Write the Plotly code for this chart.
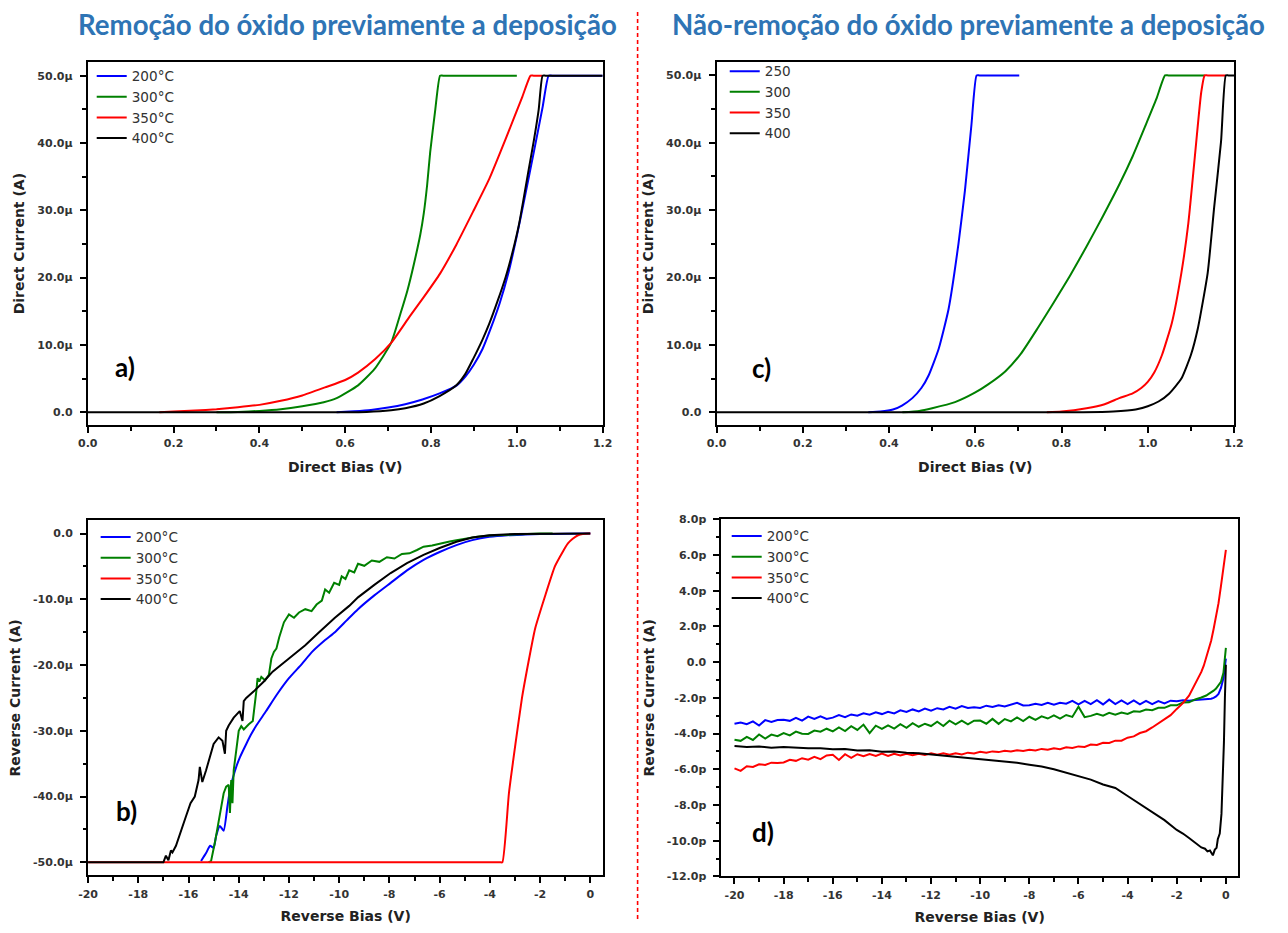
import plotly.graph_objects as go

# ---------------------------------------------------------------- data
# a) forward I-V, oxide removed before deposition (V, µA)
a_v_200 = [0.58, 0.62, 0.66, 0.70, 0.74, 0.78, 0.82, 0.86, 0.88, 0.90, 0.92, 0.94, 0.96, 0.98, 1.00, 1.02, 1.04, 1.06, 1.074, 1.082, 1.2]
a_i_200 = [0.0, 0.15, 0.35, 0.7, 1.2, 1.9, 2.8, 4.0, 5.3, 7.1, 9.4, 12.6, 16.2, 20.6, 26.2, 32.4, 38.8, 45.3, 50.0, 50.0, 50.0]
a_v_300 = [0.30, 0.35, 0.40, 0.45, 0.50, 0.55, 0.58, 0.63, 0.668, 0.707, 0.729, 0.745, 0.76, 0.775, 0.783, 0.791, 0.798, 0.81, 0.821, 0.828, 1.0]
a_i_300 = [0.0, 0.05, 0.2, 0.45, 0.9, 1.5, 2.1, 4.0, 6.4, 10.3, 14.7, 18.1, 22.0, 26.4, 29.5, 33.8, 38.6, 45.0, 50.0, 50.0, 50.0]
a_v_350 = [0.167, 0.2, 0.25, 0.3, 0.35, 0.4, 0.45, 0.5, 0.553, 0.6, 0.63, 0.67, 0.707, 0.75, 0.783, 0.821, 0.859, 0.898, 0.936, 0.974, 1.013, 1.032, 1.039, 1.059]
a_i_350 = [0.0, 0.1, 0.25, 0.45, 0.75, 1.1, 1.7, 2.5, 3.7, 4.8, 5.9, 7.9, 10.3, 14.2, 17.1, 20.6, 24.9, 29.8, 34.7, 40.6, 46.9, 50.0, 50.0, 50.0]
a_v_400 = [0.0, 0.6, 0.65, 0.707, 0.74, 0.783, 0.82, 0.859, 0.88, 0.898, 0.92, 0.936, 0.955, 0.974, 0.99, 1.005, 1.028, 1.04, 1.051, 1.06, 1.067, 1.2]
a_i_400 = [0.0, 0.0, 0.05, 0.3, 0.6, 1.3, 2.4, 4.0, 5.7, 7.9, 10.8, 13.2, 16.5, 20.1, 23.8, 27.9, 36.2, 40.5, 45.0, 50.0, 50.0, 50.0]

# c) forward I-V, oxide kept (V, µA)
c_v_250 = [0.352, 0.38, 0.409, 0.43, 0.454, 0.475, 0.492, 0.515, 0.538, 0.561, 0.576, 0.591, 0.603, 0.61, 0.702]
c_i_250 = [0.0, 0.1, 0.4, 1.0, 2.1, 3.6, 5.5, 9.4, 15.3, 25.0, 32.9, 42.6, 50.0, 50.0, 50.0]
c_v_300 = [0.431, 0.47, 0.5, 0.553, 0.599, 0.629, 0.67, 0.706, 0.745, 0.782, 0.82, 0.858, 0.896, 0.934, 0.965, 0.995, 1.02, 1.04, 1.048, 1.132]
c_i_300 = [0.0, 0.2, 0.6, 1.5, 2.9, 4.1, 6.1, 8.7, 12.5, 16.3, 20.3, 24.6, 29.1, 33.8, 38.0, 42.6, 46.5, 50.0, 50.0, 50.0]
c_v_350 = [0.766, 0.8, 0.858, 0.9, 0.934, 0.965, 0.985, 1.0, 1.015, 1.033, 1.056, 1.078, 1.094, 1.109, 1.124, 1.132, 1.139, 1.181]
c_i_350 = [0.0, 0.1, 0.6, 1.2, 2.1, 2.8, 3.6, 4.5, 5.9, 8.5, 13.3, 20.7, 28.0, 37.8, 47.5, 50.0, 50.0, 50.0]
c_v_400 = [0.0, 0.85, 0.92, 0.972, 1.0, 1.025, 1.05, 1.078, 1.1, 1.116, 1.139, 1.154, 1.17, 1.181, 1.187, 1.2]
c_i_400 = [0.0, 0.0, 0.1, 0.4, 0.9, 1.6, 2.8, 5.0, 8.5, 12.4, 20.7, 30.4, 40.2, 50.0, 50.0, 50.0]

# b) reverse I-V, oxide removed (V, µA)
b_v_200 = [-15.5, -15.3, -15.14, -15.0, -14.9, -14.75, -14.6, -14.45, -14.35, -14.22, -14.1, -13.95, -13.7, -13.5, -13.3, -12.91, -12.5, -12.0, -11.5, -11.08,
           -10.56, -10.17, -9.7, -9.25, -8.6, -7.95, -7.3, -6.64, -6.0, -5.33, -4.7, -4.02, -3.3, -2.59, -2.0, -1.0, 0.0]
b_i_200 = [-49.8, -48.6, -47.5, -47.8, -46.0, -44.5, -45.2, -41.5, -39.0, -37.0, -35.5, -34.0, -32.0, -30.5, -29.2, -27.0, -24.6, -22.0, -19.9, -18.0,
           -16.2, -15.0, -13.2, -11.5, -9.4, -7.5, -5.6, -4.0, -2.8, -1.75, -1.0, -0.5, -0.25, -0.15, -0.08, -0.02, 0.0]
b_v_300 = [-15.2, -15.1, -14.95, -14.8, -14.7, -14.6, -14.5, -14.4, -14.35, -14.3, -14.25, -14.2, -14.1, -14.0, -13.9, -13.8, -13.6, -13.44, -13.3, -13.25,
           -13.18, -13.1, -12.95, -12.8, -12.7, -12.6, -12.5, -12.39, -12.2, -12.0, -11.8, -11.6, -11.35, -11.1, -10.9, -10.69, -10.56, -10.4, -10.2, -10.0,
           -9.9, -9.75, -9.6, -9.4, -9.25, -9.0, -8.7, -8.4, -8.1, -7.8, -7.5, -7.2, -6.9, -6.64, -6.3, -6.0, -5.6, -5.33, -4.9, -4.5,
           -4.0, -3.5, -3.0, -2.5, -2.0, -1.5]
b_i_300 = [-50.0, -49.8, -47.0, -44.0, -41.5, -39.5, -38.5, -38.2, -42.5, -37.5, -41.0, -36.0, -33.0, -30.0, -29.3, -29.8, -29.0, -28.5, -24.0, -22.0,
           -22.5, -21.8, -22.3, -21.5, -19.0, -18.0, -17.5, -15.8, -13.5, -12.3, -12.8, -12.0, -11.5, -11.8, -10.8, -10.2, -8.5, -9.0, -7.5, -7.8,
           -6.5, -6.9, -5.6, -5.9, -4.6, -4.9, -4.1, -4.3, -3.6, -3.8, -3.1, -3.0, -2.5, -2.0, -1.8, -1.5, -1.2, -1.0, -0.7, -0.5,
           -0.3, -0.2, -0.1, -0.05, 0.0, 0.0]
b_v_350 = [-20.0, -3.6, -3.5, -3.24, -2.98, -2.72, -2.46, -2.2, -1.8, -1.41, -1.1, -0.89, -0.7, -0.49, -0.3, 0.0]
b_i_350 = [-50.0, -50.0, -50.0, -39.5, -32.0, -25.0, -19.5, -14.5, -9.5, -5.0, -2.8, -1.5, -0.8, -0.25, -0.05, 0.0]
b_v_400 = [-20.0, -17.0, -16.9, -16.8, -16.7, -16.64, -16.5, -16.31, -16.1, -15.92, -15.75, -15.6, -15.55, -15.45, -15.3, -15.0, -14.8, -14.65, -14.55, -14.5,
           -14.4, -14.2, -13.96, -13.85, -13.8, -13.7, -13.4, -13.0, -12.65, -12.0, -11.35, -10.8, -10.17, -9.6, -9.25, -8.6, -7.95, -7.3, -6.64, -6.0,
           -5.33, -4.7, -4.02, -3.0, -2.0, -1.0, 0.0]
b_i_400 = [-50.0, -50.0, -49.0, -49.7, -48.2, -48.5, -47.5, -45.5, -43.0, -41.0, -40.0, -37.5, -35.5, -37.8, -36.0, -32.0, -31.0, -31.5, -33.5, -30.0,
           -29.2, -28.0, -27.0, -28.5, -25.5, -25.0, -24.0, -22.5, -21.0, -19.0, -17.0, -15.0, -12.8, -11.0, -9.7, -7.8, -6.0, -4.5, -3.25, -2.2,
           -1.25, -0.6, -0.25, -0.05, 0.0, 0.0, 0.0]

# d) reverse I-V, oxide kept (V, pA)
d_bias = [-20.0, -19.75, -19.5, -19.25, -19.0, -18.75, -18.5, -18.25, -18.0, -17.75, -17.5, -17.25, -17.0, -16.75, -16.5, -16.25,
          -16.0, -15.75, -15.5, -15.25, -15.0, -14.75, -14.5, -14.25, -14.0, -13.75, -13.5, -13.25, -13.0, -12.75, -12.5, -12.25,
          -12.0, -11.75, -11.5, -11.25, -11.0, -10.75, -10.5, -10.25, -10.0, -9.75, -9.5, -9.25, -9.0, -8.75, -8.5, -8.25,
          -8.0, -7.75, -7.5, -7.25, -7.0, -6.75, -6.5, -6.25, -6.0, -5.75, -5.5, -5.25, -5.0, -4.75, -4.5, -4.25,
          -4.0, -3.75, -3.5, -3.25, -3.0, -2.75, -2.5, -2.25, -2.0, -1.75, -1.5, -1.25, -1.0,
          -0.9, -0.8, -0.7, -0.6, -0.5, -0.4, -0.3, -0.2, -0.1, -0.05, 0.0]
d_i_200 = [-3.45, -3.38, -3.48, -3.32, -3.55, -3.25, -3.35, -3.24, -3.23, -3.29, -3.12, -3.28, -3.05, -3.18, -3.04, -3.18,
           -3.11, -2.97, -3.08, -2.93, -3.0, -2.87, -2.94, -2.81, -2.91, -2.78, -2.87, -2.7, -2.79, -2.65, -2.76, -2.6,
           -2.72, -2.58, -2.65, -2.5, -2.61, -2.46, -2.57, -2.53, -2.57, -2.44, -2.51, -2.42, -2.49, -2.4, -2.28, -2.43,
           -2.42, -2.33, -2.4, -2.28, -2.39, -2.28, -2.33, -2.17, -2.37, -2.17, -2.35, -2.13, -2.37, -2.1, -2.35, -2.15,
           -2.35, -2.15, -2.37, -2.17, -2.35, -2.18, -2.31, -2.16, -2.19, -2.14, -2.17, -2.12, -2.1,
           -2.09, -2.08, -2.07, -2.05, -2.0, -1.92, -1.78, -1.45, -0.9, -0.4, 0.2]
d_i_300 = [-4.35, -4.41, -4.19, -4.36, -4.05, -4.28, -4.06, -4.15, -3.97, -4.1, -3.89, -4.01, -4.02, -3.83, -3.9, -3.73,
           -3.88, -3.66, -3.86, -3.59, -3.8, -3.5, -3.98, -3.56, -3.74, -3.54, -3.72, -3.48, -3.68, -3.42, -3.62, -3.45,
           -3.58, -3.34, -3.58, -3.28, -3.48, -3.28, -3.48, -3.28, -3.27, -3.45, -3.18, -3.46, -3.19, -3.32, -3.1, -3.3,
           -3.06, -3.24, -3.04, -3.16, -2.98, -3.16, -2.96, -3.07, -2.5, -3.08, -3.01, -2.89, -3.0, -2.84, -2.94, -2.82,
           -2.9, -2.75, -2.78, -2.66, -2.69, -2.56, -2.56, -2.42, -2.42, -2.26, -2.25, -2.09, -1.98,
           -1.93, -1.87, -1.78, -1.7, -1.6, -1.48, -1.32, -1.1, -0.6, 0.0, 0.8]
d_i_350 = [-5.95, -6.09, -5.83, -5.87, -5.72, -5.76, -5.63, -5.65, -5.62, -5.47, -5.53, -5.38, -5.46, -5.3, -5.43, -5.23,
           -5.19, -5.48, -5.16, -5.36, -5.16, -5.27, -5.15, -5.25, -5.12, -5.25, -5.13, -5.23, -5.13, -5.22, -5.13, -5.2,
           -5.11, -5.19, -5.11, -5.19, -5.1, -5.17, -5.07, -5.12, -5.02, -5.08, -5.0, -5.04, -4.96, -5.01, -4.94, -4.98,
           -4.91, -4.95, -4.86, -4.91, -4.83, -4.88, -4.77, -4.81, -4.72, -4.75, -4.62, -4.64, -4.52, -4.53, -4.4, -4.4,
           -4.23, -4.16, -3.97, -3.87, -3.66, -3.44, -3.21, -2.97, -2.62, -2.3, -1.88, -1.25, -0.55,
           -0.2, 0.25, 0.72, 1.2, 1.85, 2.55, 3.3, 4.27, 5.2, 5.7, 6.29]
d_v_400 = [-20.0, -19.5, -19.0, -18.5, -18.0, -17.5, -17.0, -16.5, -16.0, -15.5, -15.0, -14.5, -14.0, -13.5, -13.0, -12.5,
           -12.0, -11.5, -11.0, -10.5, -10.0, -9.5, -9.0, -8.5, -8.0, -7.5, -7.0, -6.5, -6.0, -5.5, -5.0, -4.5,
           -4.0, -3.5, -3.0, -2.5, -2.0, -1.75, -1.5, -1.25, -1.0, -0.85, -0.75, -0.65, -0.58, -0.53, -0.45, -0.38,
           -0.33, -0.25, -0.18, -0.13, -0.08, -0.04, 0.0]
d_i_400 = [-4.7, -4.76, -4.72, -4.79, -4.76, -4.8, -4.83, -4.82, -4.88, -4.86, -4.95, -4.94, -5.02, -5.0, -5.08, -5.1,
           -5.17, -5.22, -5.3, -5.35, -5.45, -5.5, -5.6, -5.64, -5.75, -5.85, -6.0, -6.18, -6.4, -6.58, -6.85, -7.05,
           -7.5, -7.95, -8.44, -8.85, -9.4, -9.6, -9.85, -10.1, -10.38, -10.45, -10.6, -10.55, -10.75, -10.82, -10.5, -10.4,
           -9.92, -9.6, -8.5, -6.78, -4.5, -2.0, -0.15]

labels_c = ["200°C", "300°C", "350°C", "400°C"]
labels_n = ["250", "300", "350", "400"]
colors = ["#0000ff", "#008000", "#ff0000", "#000000"]

fwd_ticks = [0.0, 0.2, 0.4, 0.6, 0.8, 1.0, 1.2]
fwd_ticktext = ["0.0", "0.2", "0.4", "0.6", "0.8", "1.0", "1.2"]
fwd_minor = [0.1, 0.3, 0.5, 0.7, 0.9, 1.1]
dir_i_ticks = [0, 10, 20, 30, 40, 50]
dir_i_ticktext = ["0.0", "10.0µ", "20.0µ", "30.0µ", "40.0µ", "50.0µ"]
dir_i_minor = [5, 15, 25, 35, 45]
rev_ticks = [-20, -18, -16, -14, -12, -10, -8, -6, -4, -2, 0]
rev_ticktext = ["-20", "-18", "-16", "-14", "-12", "-10", "-8", "-6", "-4", "-2", "0"]
rev_minor = [-19, -17, -15, -13, -11, -9, -7, -5, -3, -1]
rev_i_ticks = [-50, -40, -30, -20, -10, 0]
rev_i_ticktext = ["-50.0µ", "-40.0µ", "-30.0µ", "-20.0µ", "-10.0µ", "0.0"]
rev_i_minor = [-45, -35, -25, -15, -5]
pa_ticks = [-12, -10, -8, -6, -4, -2, 0, 2, 4, 6, 8]
pa_ticktext = ["-12.0p", "-10.0p", "-8.0p", "-6.0p", "-4.0p", "-2.0p", "0.0", "2.0p", "4.0p", "6.0p", "8.0p"]
pa_minor = [-11, -9, -7, -5, -3, -1, 1, 3, 5, 7]

# ---------------------------------------------------------------- layout helpers
W, H = 1288, 933


def fx(px):
    return px / W


def fy(py):
    return 1 - py / H


TICK_FONT = dict(family="DejaVu Sans", size=11, color="#333333", weight="bold")
TITLE_FONT = dict(family="DejaVu Sans", size=14, color="#222222", weight="bold")
LEG_FONT = dict(family="DejaVu Sans", size=13.6, color="#333333")


def axis(domain, rng, ticks, ticktext, minor, title, standoff, label_gap):
    return dict(
        domain=domain, range=rng, autorange=False,
        showline=True, linewidth=2, linecolor="black", mirror=True,
        showgrid=False, zeroline=False,
        tickmode="array", tickvals=ticks, ticktext=ticktext,
        ticks="outside", ticklen=6, tickwidth=1.5, tickcolor="black",
        ticklabelstandoff=label_gap,
        minor=dict(tickvals=minor, ticks="outside", ticklen=3.5, tickwidth=1.5, tickcolor="black"),
        tickfont=TICK_FONT,
        title=dict(text=title, font=TITLE_FONT, standoff=standoff),
    )


fig = go.Figure()

# (x axis, y axis, legend, names, series, smoothed line?)
panels = [
    ("x", "y", "legend", labels_c,
     [(a_v_200, a_i_200), (a_v_300, a_i_300), (a_v_350, a_i_350), (a_v_400, a_i_400)],
     [True, True, True, True]),
    ("x2", "y2", "legend2", labels_c,
     [(b_v_200, b_i_200), (b_v_300, b_i_300), (b_v_350, b_i_350), (b_v_400, b_i_400)],
     [True, False, True, False]),
    ("x3", "y3", "legend3", labels_n,
     [(c_v_250, c_i_250), (c_v_300, c_i_300), (c_v_350, c_i_350), (c_v_400, c_i_400)],
     [True, True, True, True]),
    ("x4", "y4", "legend4", labels_c,
     [(d_bias, d_i_200), (d_bias, d_i_300), (d_bias, d_i_350), (d_v_400, d_i_400)],
     [False, False, False, False]),
]
for xa, ya, leg, names, series, smooth in panels:
    for name, color, (xs, ys), sm in zip(names, colors, series, smooth):
        line = dict(color=color, width=2)
        if sm:
            line.update(shape="spline", smoothing=0.5)
        fig.add_trace(go.Scatter(
            x=xs, y=ys, mode="lines", name=name, xaxis=xa, yaxis=ya, legend=leg, line=line,
        ))

dom_a_x = [fx(79), fx(602)]
dom_a_y = [fy(425), fy(57)]
dom_b_x = [fx(79.3), fx(602.7)]
dom_b_y = [fy(881.7), fy(521.7)]
dom_c_x = [fx(717.7), fx(1243.3)]
dom_c_y = [fy(425), fy(56.7)]
dom_d_x = [fx(722.7), fx(1247.3)]
dom_d_y = [fy(882.7), fy(520.5)]

fig.update_layout(
    width=W, height=H,
    margin=dict(l=0, r=0, t=0, b=0),
    paper_bgcolor="white", plot_bgcolor="white",
    xaxis=dict(axis(dom_a_x, [0, 1.2], fwd_ticks, fwd_ticktext, fwd_minor, "Direct Bias (V)", 13, 1), anchor="y"),
    yaxis=dict(axis(dom_a_y, [-1.9, 52], dir_i_ticks, dir_i_ticktext, dir_i_minor, "Direct Current (A)", 9, 5), anchor="x"),
    xaxis2=dict(axis(dom_b_x, [-20, 0.52], rev_ticks, rev_ticktext, rev_minor, "Reverse Bias (V)", 12, 1), anchor="y2"),
    yaxis2=dict(axis(dom_b_y, [-52, 2], rev_i_ticks, rev_i_ticktext, rev_i_minor, "Reverse Current (A)", 9, 5), anchor="x2"),
    xaxis3=dict(axis(dom_c_x, [0, 1.2], fwd_ticks, fwd_ticktext, fwd_minor, "Direct Bias (V)", 13, 1), anchor="y3"),
    yaxis3=dict(axis(dom_c_y, [-1.9, 52], dir_i_ticks, dir_i_ticktext, dir_i_minor, "Direct Current (A)", 9, 5), anchor="x3"),
    xaxis4=dict(axis(dom_d_x, [-20.53, 0.49], rev_ticks, rev_ticktext, rev_minor, "Reverse Bias (V)", 12, 1), anchor="y4"),
    yaxis4=dict(axis(dom_d_y, [-12, 8], pa_ticks, pa_ticktext, pa_minor, "Reverse Current (A)", 9, 5), anchor="x4"),
    showlegend=True,
)

legend_style = dict(font=LEG_FONT, bgcolor="rgba(0,0,0,0)", borderwidth=0,
                    xanchor="left", yanchor="top", tracegroupgap=0, itemclick=False)
fig.update_layout(
    legend=dict(legend_style, x=fx(83), y=fy(55.5)),
    legend2=dict(legend_style, x=fx(87), y=fy(523)),
    legend3=dict(legend_style, x=fx(726), y=fy(50.5)),
    legend4=dict(legend_style, x=fx(728), y=fy(522)),
)

# column headings and panel letters
HEAD_FONT = dict(family="Lato", size=27.6, color="#2e74b5", weight="bold")
LETTER_FONT = dict(family="Lato", size=26, color="black", weight="bold")
annotations = [
    dict(text="Remoção do óxido previamente a deposição", x=fx(343), y=fy(19), font=HEAD_FONT),
    dict(text="Não-remoção do óxido previamente a deposição", x=fx(974), y=fy(19), font=HEAD_FONT),
    dict(text="a)", x=fx(117), y=fy(366), font=LETTER_FONT),
    dict(text="b)", x=fx(118), y=fy(816), font=LETTER_FONT),
    dict(text="c)", x=fx(763), y=fy(367), font=LETTER_FONT),
    dict(text="d)", x=fx(765), y=fy(838), font=LETTER_FONT),
]
for ann in annotations:
    fig.add_annotation(xref="paper", yref="paper", showarrow=False,
                       xanchor="center", yanchor="middle", **ann)

# dashed separator between the two columns
fig.add_shape(type="line", xref="paper", yref="paper",
              x0=fx(637.5), x1=fx(637.5), y0=fy(6), y1=fy(928),
              line=dict(color="#ff0000", width=1.6, dash="4px,3px"))

fig.write_html("out.html")
